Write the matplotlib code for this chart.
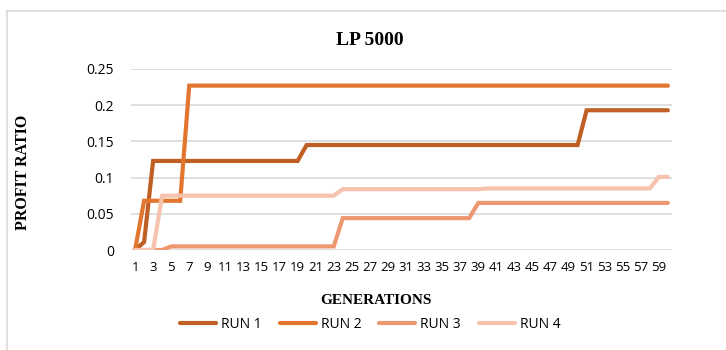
import numpy as np
import matplotlib.pyplot as plt
from matplotlib.lines import Line2D

# generations 1..60
generations = list(range(1, 61))

run1 = [0.0, 0.011] + [0.123] * 17 + [0.145] * 31 + [0.193] * 10
run2 = [0.0] + [0.068] * 5 + [0.227] * 54
run3 = [0.0] * 4 + [0.005] * 19 + [0.044] * 15 + [0.065] * 22
run4 = [0.0] * 3 + [0.075] * 20 + [0.084] * 16 + [0.085] * 19 + [0.101] * 2

series = [("RUN 1", run1, "#BF5F24"),
          ("RUN 2", run2, "#E2762F"),
          ("RUN 3", run3, "#EE9872"),
          ("RUN 4", run4, "#F5C3AE")]

tick_labels = [str(g) for g in generations if g % 2 == 1]

fig = plt.figure(figsize=(7.26, 3.5), dpi=100)
ax = fig.add_axes([0.1798, 0.2857, 0.7464, 0.5172])

for name, vals, col in series:
    ax.plot(generations, vals, color=col, lw=3, label=name,
            solid_capstyle="round", solid_joinstyle="miter")

ax.set_xlim(0.5, 60.5)
ax.set_ylim(0, 0.25)
ax.set_yticks([0, 0.05, 0.1, 0.15, 0.2, 0.25])
ax.set_yticklabels(["0", "0.05", "0.1", "0.15", "0.2", "0.25"],
                   fontfamily="Open Sans", fontsize=10)
ax.set_xticks([g for g in generations if g % 2 == 1])
ax.set_xticklabels(tick_labels, fontfamily="Open Sans", fontsize=9.5)
ax.tick_params(length=0, pad=8)
ax.tick_params(axis="y", pad=12)
ax.grid(axis="y", color="#D9D9D9", lw=1.2)
ax.set_axisbelow(True)
for s in ax.spines.values():
    s.set_visible(False)

fig.text(0.51, 0.885, "LP 5000", ha="center", va="center",
         fontfamily="Liberation Serif", fontweight="bold", fontsize=14)
fig.text(0.031, 0.507, "PROFIT RATIO", ha="center", va="center", rotation=90,
         fontfamily="Liberation Serif", fontweight="bold", fontsize=11.5)
fig.text(0.518, 0.14, "GENERATIONS", ha="center", va="center",
         fontfamily="Liberation Serif", fontweight="bold", fontsize=11)

handles = [Line2D([0], [0], color=c, lw=3, solid_capstyle="round") for _, _, c in series]
fig.legend(handles, [n for n, _, _ in series], loc="center", ncol=4,
           bbox_to_anchor=(0.51, 0.072), frameon=False, handlelength=2.6,
           handletextpad=0.35, columnspacing=1.3,
           prop={"family": "Open Sans", "size": 10})

# light frame around the chart area
fig.add_artist(Line2D([7 / 726, 1], [1 - 11 / 350] * 2, color="#D9D9D9", lw=1.2))
fig.add_artist(Line2D([7 / 726] * 2, [0, 1 - 11 / 350], color="#D9D9D9", lw=1.2))

fig.savefig("out.png", dpi=100)
